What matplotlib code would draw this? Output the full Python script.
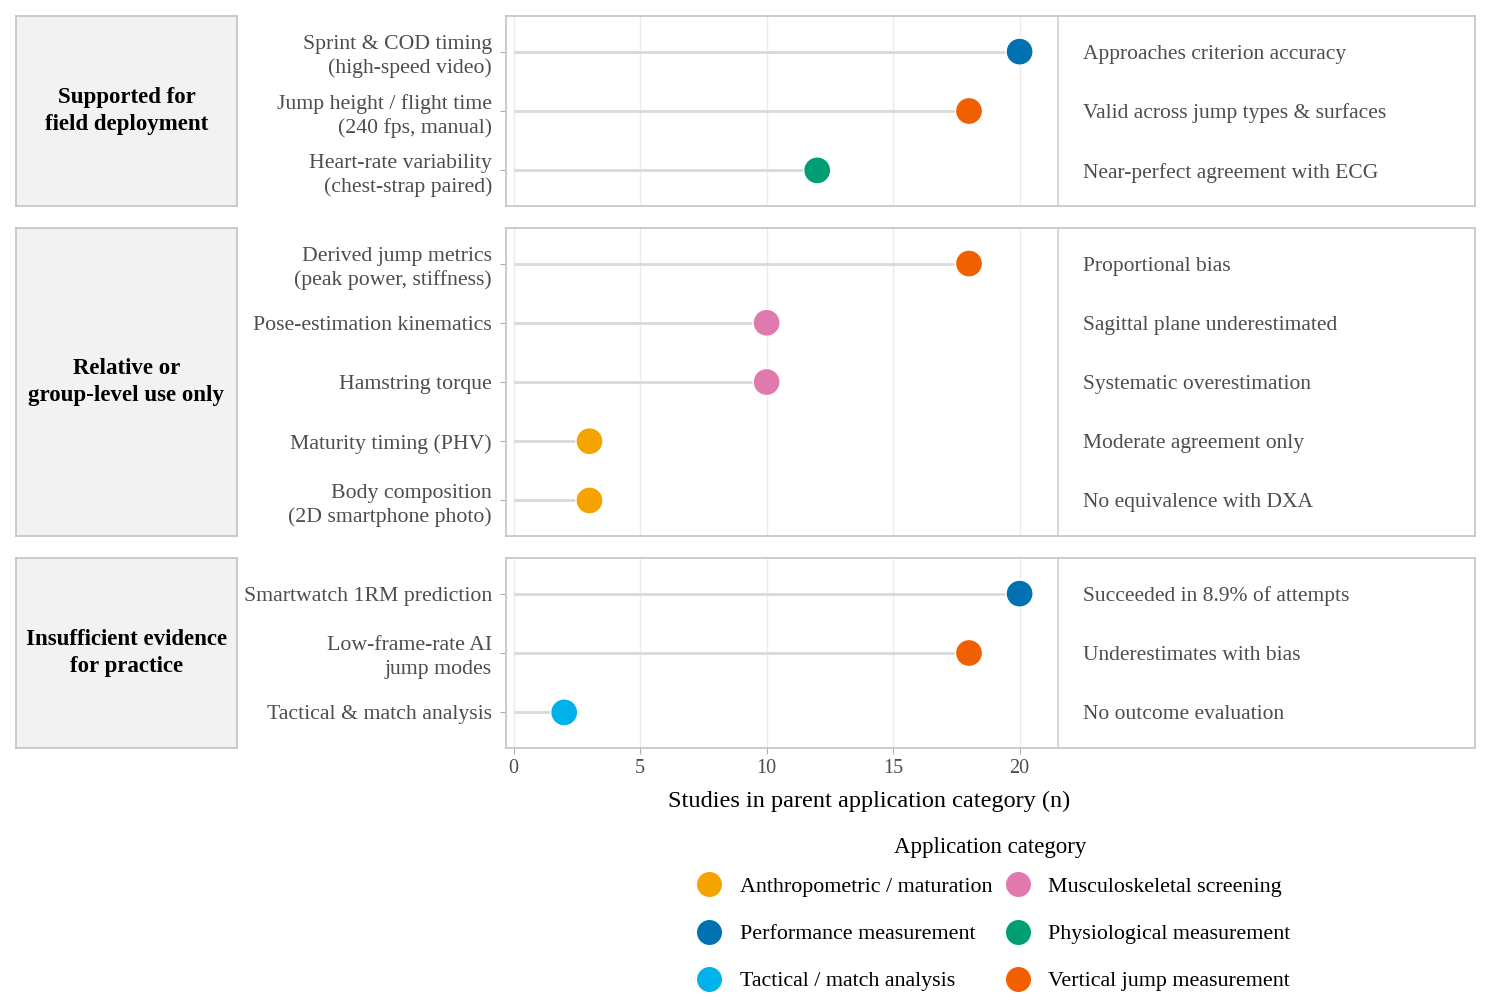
import matplotlib
matplotlib.use('Agg')
import matplotlib.pyplot as plt
from matplotlib.lines import Line2D

plt.rcParams['font.family'] = ['Liberation Serif', 'DejaVu Serif']

# 数据
tiers = ['Supported for\nfield deployment',
         'Relative or\ngroup-level use only',
         'Insufficient evidence\nfor practice']

labels = [
    ['Sprint & COD timing\n(high-speed video)',
     'Jump height / flight time\n(240 fps, manual)',
     'Heart-rate variability\n(chest-strap paired)'],
    ['Derived jump metrics\n(peak power, stiffness)',
     'Pose-estimation kinematics',
     'Hamstring torque',
     'Maturity timing (PHV)',
     'Body composition\n(2D smartphone photo)'],
    ['Smartwatch 1RM prediction',
     'Low-frame-rate AI\njump modes',
     'Tactical & match analysis'],
]
values = [[20, 18, 12], [18, 10, 10, 3, 3], [20, 18, 2]]
categories = [
    ['Performance measurement', 'Vertical jump measurement', 'Physiological measurement'],
    ['Vertical jump measurement', 'Musculoskeletal screening', 'Musculoskeletal screening',
     'Anthropometric / maturation', 'Anthropometric / maturation'],
    ['Performance measurement', 'Vertical jump measurement', 'Tactical / match analysis'],
]
notes = [
    ['Approaches criterion accuracy', 'Valid across jump types & surfaces',
     'Near-perfect agreement with ECG'],
    ['Proportional bias', 'Sagittal plane underestimated', 'Systematic overestimation',
     'Moderate agreement only', 'No equivalence with DXA'],
    ['Succeeded in 8.9% of attempts', 'Underestimates with bias', 'No outcome evaluation'],
]
x_ticks = [0, 5, 10, 15, 20]

colors = {
    'Anthropometric / maturation': '#F5A300',
    'Musculoskeletal screening': '#E07AAE',
    'Performance measurement': '#0072B2',
    'Physiological measurement': '#009E73',
    'Tactical / match analysis': '#00B2EC',
    'Vertical jump measurement': '#F06000',
}

W, H = 1493, 1005
fig = plt.figure(figsize=(W / 100, H / 100), dpi=100)

# 面板位置 (像素)
panel_px = [(16, 206), (228, 536), (558, 748)]
px_l, px_r = 506, 1475
st_l, st_r = 16, 237

grid_c = '#EBEBEB'
border_c = '#C4C4C4'
text_c = '#4D4D4D'

axes = []
for i, (top, bot) in enumerate(panel_px):
    ax = fig.add_axes([px_l / W, 1 - bot / H, (px_r - px_l) / W, (bot - top) / H])
    axes.append(ax)
    n = len(values[i])
    ys = list(range(n))
    ax.set_ylim(n - 1 + 0.6, -0.6)
    ax.set_xlim(-0.3, 38.0)
    for xt in x_ticks:
        ax.axvline(xt, color=grid_c, lw=1, zorder=0)
    ax.axvline(21.5, color='#D0D0D0', lw=1.2, zorder=1)
    ax.hlines(ys, 0, values[i], color='#D9D9D9', lw=2, zorder=2)
    ax.scatter(values[i], ys, s=380, c=[colors[c] for c in categories[i]],
               edgecolors='white', linewidths=1, zorder=3)
    for y, t in zip(ys, notes[i]):
        ax.text(22.5, y, t, ha='left', va='center_baseline', fontsize=15.5, color=text_c)
    ax.set_yticks(ys)
    ax.set_yticklabels(labels[i], fontsize=15.7, color=text_c, linespacing=1.33)
    ax.tick_params(axis='y', length=4, color='#B0B0B0', pad=6)
    for sp in ax.spines.values():
        sp.set_color(border_c)
        sp.set_linewidth(1.2)
    if i < 2:
        ax.set_xticks([])
    else:
        ax.set_xticks(x_ticks)
        ax.tick_params(axis='x', length=4, color='#B0B0B0', labelsize=14.5,
                       labelcolor=text_c, pad=4)
        ax.set_xlabel('Studies in parent application category (n)', fontsize=17.5,
                      color='black')
        ax.xaxis.set_label_coords((869 - px_l) / (px_r - px_l), -0.225)

    # 左侧分组标签
    sax = fig.add_axes([st_l / W, 1 - bot / H, (st_r - st_l) / W, (bot - top) / H])
    sax.set_facecolor('#F2F2F2')
    sax.set_xticks([])
    sax.set_yticks([])
    for sp in sax.spines.values():
        sp.set_color(border_c)
        sp.set_linewidth(1.2)
    sax.text(0.5, 0.5, tiers[i], ha='center', va='center', fontsize=16.5,
             fontweight='bold', color='black', transform=sax.transAxes, linespacing=1.42)

# 图例
order = ['Anthropometric / maturation', 'Performance measurement', 'Tactical / match analysis',
         'Musculoskeletal screening', 'Physiological measurement', 'Vertical jump measurement']
handles = [Line2D([], [], marker='o', linestyle='', markersize=19,
                  markerfacecolor=colors[c], markeredgecolor='white', label=c) for c in order]
fig.text(990 / W, 1 - 847 / H, 'Application category', ha='center', va='center',
         fontsize=16.5, color='black')
leg = fig.legend(handles=handles, ncol=2, loc='upper center',
                 bbox_to_anchor=(989 / W, 1 - 868 / H), frameon=False,
                 fontsize=15.8, labelspacing=1.22, columnspacing=0.15,
                 handletextpad=0.4, borderaxespad=0)

fig.savefig('out.png', dpi=100)
